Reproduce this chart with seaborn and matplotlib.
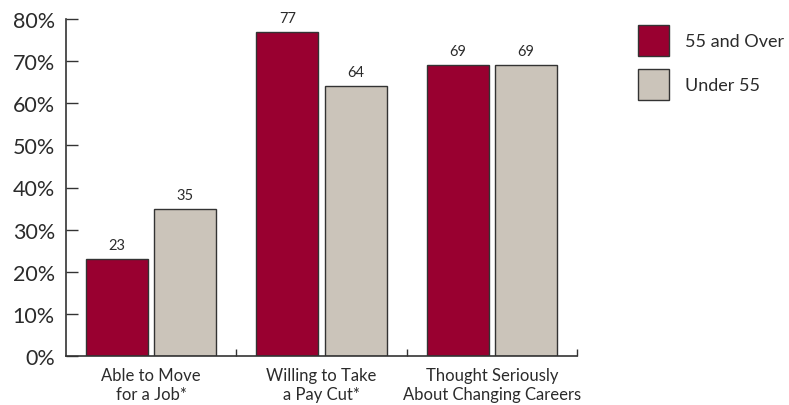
import matplotlib
matplotlib.use("Agg")
import matplotlib.pyplot as plt
import seaborn as sns
import pandas as pd
from matplotlib.patches import Patch
from matplotlib.ticker import FixedLocator

categories = ["Able to Move\nfor a Job*", "Willing to Take\na Pay Cut*",
              "Thought Seriously\nAbout Changing Careers"]
groups = ["55 and Over", "Under 55"]
over55 = [23, 77, 69]
under55 = [35, 64, 69]
yticks = [0, 10, 20, 30, 40, 50, 60, 70, 80]
ytick_labels = [f"{v}%" for v in yticks]

colors = {"55 and Over": "#990030", "Under 55": "#CBC4BA"}
edge = "#333333"
text_col = "#2b2b2b"

df = pd.DataFrame({
    "category": categories * 2,
    "group": [groups[0]] * 3 + [groups[1]] * 3,
    "value": over55 + under55,
})

sns.set_theme(style="white")
plt.rcParams["font.family"] = ["Lato", "DejaVu Sans"]

fig = plt.figure(figsize=(7.89, 4.06), dpi=100)
ax = fig.add_axes([66 / 789, 1 - 357 / 406, (577 - 66) / 789, (357 - 20) / 406])

sns.barplot(data=df, x="category", y="value", hue="group", hue_order=groups,
            order=categories, palette=colors, saturation=1, edgecolor=edge,
            linewidth=1.0, gap=0.09, width=0.8, legend=False, ax=ax)

for cont in ax.containers:
    ax.bar_label(cont, fmt="%d", padding=5, fontsize=10.5, color=text_col)

ax.set_xlim(-0.5, 2.5)
ax.set_ylim(0, 80)
ax.set_yticks(yticks)
ax.set_yticklabels(ytick_labels, fontsize=15.5, color=text_col)
ax.tick_params(axis="y", direction="in", length=8.5, width=1.0, color=edge, pad=8, left=True)
ax.tick_params(axis="x", which="major", length=0, pad=8, labelsize=12, labelcolor=text_col)
ax.xaxis.set_minor_locator(FixedLocator([0.5, 1.5, 2.5]))
ax.tick_params(axis="x", which="minor", direction="in", length=5, width=1.0, color=edge, bottom=True)
ax.set_xlabel("")
ax.set_ylabel("")

for s in ["top", "right"]:
    ax.spines[s].set_visible(False)
for s in ["left", "bottom"]:
    ax.spines[s].set_color(edge)
    ax.spines[s].set_linewidth(1.2)

handles = [Patch(facecolor=colors[g], edgecolor=edge, linewidth=1.0, label=g) for g in groups]
fig.legend(handles=handles, loc="upper left", bbox_to_anchor=(638 / 789, 1 - 26 / 406),
           frameon=False, fontsize=13, handlelength=1.72, handleheight=2.26,
           handletextpad=0.9, labelspacing=0.72, borderpad=0, borderaxespad=0,
           labelcolor=text_col)

fig.savefig("out.png", dpi=100)
